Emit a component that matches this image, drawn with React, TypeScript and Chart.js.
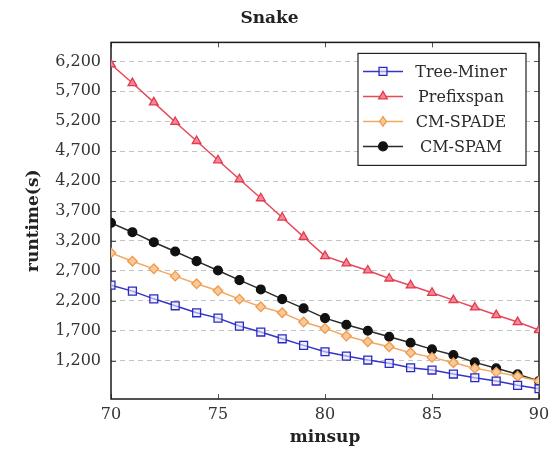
import React, { useEffect, useRef } from 'react';
import { Chart, registerables } from 'chart.js';

Chart.register(...registerables);

const minsup = [70, 71, 72, 73, 74, 75, 76, 77, 78, 79, 80, 81, 82, 83, 84, 85, 86, 87, 88, 89, 90];
const treeMiner = [2463, 2363, 2234, 2118, 2001, 1912, 1779, 1679, 1567, 1457, 1350, 1278, 1212, 1157, 1083, 1045, 978, 916, 861, 789, 733];
const prefixspan = [6150, 5838, 5516, 5188, 4870, 4548, 4231, 3914, 3592, 3269, 2947, 2825, 2708, 2574, 2458, 2335, 2213, 2090, 1963, 1846, 1712];
const cmSpade = [3002, 2863, 2735, 2613, 2485, 2368, 2229, 2101, 2001, 1846, 1740, 1612, 1517, 1433, 1334, 1256, 1167, 1073, 1010, 940, 860];
const cmSpam = [3502, 3347, 3180, 3025, 2863, 2708, 2546, 2391, 2229, 2074, 1912, 1801, 1701, 1600, 1500, 1390, 1295, 1173, 1073, 973, 861];
const seriesNames = ['Tree-Miner', 'Prefixspan', 'CM-SPADE', 'CM-SPAM'];
const yTicks = [1200, 1700, 2200, 2700, 3200, 3700, 4200, 4700, 5200, 5700, 6200];
const xTicks = [70, 75, 80, 85, 90];

const FONT = "'DejaVu Serif', serif";

const styles = [
  { line: '#3434c8', fill: 'rgba(230,230,250,0.6)', border: '#2a2ac0', shape: 'rect', r: 5.6 },
  { line: '#e8485a', fill: '#f28a96', border: '#e33a4e', shape: 'triangle', r: 5 },
  { line: '#f4a860', fill: '#f8c99a', border: '#f09a48', shape: 'rectRot', r: 4.8 },
  { line: '#2a2a2a', fill: '#111111', border: '#111111', shape: 'circle', r: 4.4 },
];

function drawMarker(ctx: CanvasRenderingContext2D, shape: string, x: number, y: number, r: number) {
  ctx.beginPath();
  if (shape === 'circle') {
    ctx.arc(x, y, r, 0, Math.PI * 2);
  } else if (shape === 'rect') {
    const s = r * Math.SQRT1_2;
    ctx.rect(x - s, y - s, 2 * s, 2 * s);
  } else if (shape === 'triangle') {
    ctx.moveTo(x, y - r);
    ctx.lineTo(x + r * 0.866, y + r * 0.5);
    ctx.lineTo(x - r * 0.866, y + r * 0.5);
    ctx.closePath();
  } else {
    ctx.moveTo(x, y - r);
    ctx.lineTo(x + r * 0.7, y);
    ctx.lineTo(x, y + r);
    ctx.lineTo(x - r * 0.7, y);
    ctx.closePath();
  }
  ctx.fill();
  ctx.stroke();
}

const framePlugin = {
  id: 'framePlugin',
  beforeDatasetsDraw(chart: any) {
    const { ctx, chartArea, scales } = chart;
    const { left, right, top, bottom } = chartArea;
    ctx.save();
    ctx.strokeStyle = '#555';
    ctx.lineWidth = 1;
    ctx.setLineDash([]);
    xTicks.forEach((t) => {
      const px = Math.round(scales.x.getPixelForValue(t)) + 0.5;
      ctx.beginPath();
      ctx.moveTo(px, top);
      ctx.lineTo(px, top + 5);
      ctx.moveTo(px, bottom);
      ctx.lineTo(px, bottom - 5);
      ctx.stroke();
    });
    yTicks.forEach((t) => {
      const py = Math.round(scales.y.getPixelForValue(t)) + 0.5;
      ctx.beginPath();
      ctx.moveTo(left, py);
      ctx.lineTo(left + 5, py);
      ctx.moveTo(right, py);
      ctx.lineTo(right - 5, py);
      ctx.stroke();
    });
    ctx.strokeStyle = '#1a1a1a';
    ctx.lineWidth = 1.5;
    ctx.strokeRect(left, top, right - left, bottom - top);
    ctx.restore();
  },
};

const legendPlugin = {
  id: 'legendPlugin',
  afterDraw(chart: any) {
    const { ctx, chartArea } = chart;
    const w = 168;
    const h = 112;
    const bx = chartArea.right - 13 - w;
    const by = chartArea.top + 11;
    ctx.save();
    ctx.fillStyle = '#ffffff';
    ctx.fillRect(bx, by, w, h);
    ctx.strokeStyle = '#222';
    ctx.lineWidth = 1.2;
    ctx.strokeRect(bx, by, w, h);
    ctx.font = `16px ${FONT}`;
    ctx.textAlign = 'center';
    ctx.textBaseline = 'middle';
    seriesNames.forEach((name, i) => {
      const st = styles[i];
      const cy = by + 18 + i * 25;
      ctx.strokeStyle = st.line;
      ctx.lineWidth = 1.5;
      ctx.beginPath();
      ctx.moveTo(bx + 5, cy);
      ctx.lineTo(bx + 45, cy);
      ctx.stroke();
      ctx.fillStyle = st.fill;
      ctx.strokeStyle = st.border;
      ctx.lineWidth = 1.3;
      drawMarker(ctx, st.shape, bx + 25, cy, st.r);
      ctx.fillStyle = '#2a2a2a';
      ctx.fillText(name, bx + 103, cy + 1);
    });
    ctx.restore();
  },
};

export default function App() {
  const ref = useRef<HTMLCanvasElement | null>(null);

  useEffect(() => {
    if (!ref.current) return;
    const series = [treeMiner, prefixspan, cmSpade, cmSpam];
    const chart = new Chart(ref.current, {
      type: 'line',
      data: {
        datasets: series.map((vals, i) => ({
          label: seriesNames[i],
          data: minsup.map((m, j) => ({ x: m, y: vals[j] })),
          borderColor: styles[i].line,
          backgroundColor: styles[i].fill,
          pointBackgroundColor: styles[i].fill,
          pointBorderColor: styles[i].border,
          pointBorderWidth: 1.3,
          pointStyle: styles[i].shape as any,
          pointRadius: styles[i].r,
          borderWidth: 1.5,
          tension: 0,
          fill: false,
        })),
      },
      options: {
        animation: false,
        responsive: false,
        layout: { padding: { left: 0, right: 18, top: 0, bottom: 0 } },
        plugins: {
          legend: { display: false },
          tooltip: { enabled: false },
          title: {
            display: true,
            text: 'Snake',
            color: '#222',
            font: { family: FONT, size: 17, weight: 'bold' },
            padding: { top: 8, bottom: 14 },
          },
        },
        scales: {
          x: {
            type: 'linear',
            min: 70,
            max: 90,
            afterBuildTicks: (s: any) => {
              s.ticks = xTicks.map((v) => ({ value: v }));
            },
            afterFit: (s: any) => {
              s.height = 58;
            },
            grid: { display: false, drawTicks: false },
            border: { display: false },
            ticks: {
              color: '#333',
              font: { family: FONT, size: 16 },
              padding: 6,
              maxRotation: 0,
            },
            title: {
              display: true,
              text: 'minsup',
              color: '#222',
              font: { family: FONT, size: 17, weight: 'bold' },
              padding: { top: 4, bottom: 9 },
            },
          },
          y: {
            type: 'linear',
            min: 561,
            max: 6517,
            afterBuildTicks: (s: any) => {
              s.ticks = yTicks.map((v) => ({ value: v }));
            },
            afterFit: (s: any) => {
              s.width = 111;
            },
            grid: { color: '#c4c4c4', lineWidth: 1, drawTicks: false },
            border: { display: false, dash: [5, 4] },
            ticks: {
              color: '#333',
              font: { family: FONT, size: 16 },
              padding: 10,
            },
            title: {
              display: true,
              text: 'runtime(s)',
              color: '#222',
              font: { family: FONT, size: 17, weight: 'bold' },
              padding: { top: 23, bottom: 0 },
            },
          },
        },
      },
      plugins: [framePlugin, legendPlugin],
    });
    return () => chart.destroy();
  }, []);

  return (
    <div style={{ position: 'absolute', left: 0, top: 0, width: 557, height: 457, background: '#fff' }}>
      <canvas ref={ref} width={557} height={457} style={{ display: 'block' }} />
    </div>
  );
}
